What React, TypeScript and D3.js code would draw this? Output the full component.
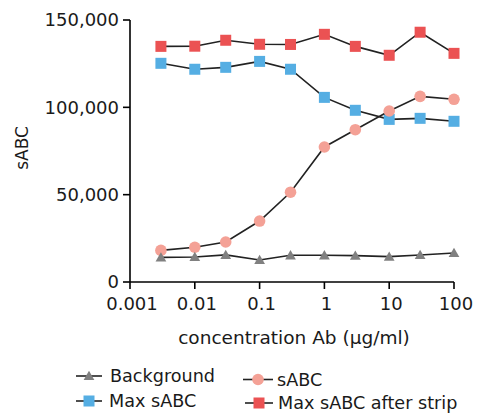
import React from "react";
import * as d3 from "d3";

const concentrations = [0.003, 0.01, 0.03, 0.1, 0.3, 1, 3, 10, 30, 100];
const background = [14100, 14300, 15500, 12600, 15300, 15300, 15100, 14500, 15500, 16600];
const sABC = [18100, 19900, 22900, 34900, 51400, 77300, 87200, 97900, 106300, 104600];
const maxSABC = [125200, 121800, 122900, 126300, 121800, 105700, 98300, 93100, 93700, 92000];
const maxAfterStrip = [134900, 135000, 138400, 136100, 136000, 141800, 134900, 129800, 143000, 130900];
const xTicks = [0.001, 0.01, 0.1, 1, 10, 100];
const xTickLabels = ["0.001", "0.01", "0.1", "1", "10", "100"];
const yTicks = [0, 50000, 100000, 150000];

const series = [
  { name: "Max sABC after strip", values: maxAfterStrip, shape: "square", color: "#EB5253" },
  { name: "Max sABC", values: maxSABC, shape: "square", color: "#55AEE3" },
  { name: "sABC", values: sABC, shape: "circle", color: "#F4A196" },
  { name: "Background", values: background, shape: "triangle", color: "#808080" },
];

const FONT = "'DejaVu Sans', sans-serif";
const TEXT = "#1a1a1a";

function Marker({ shape, color, x, y }: { shape: string; color: string; x: number; y: number }) {
  if (shape === "square") return <rect x={x - 5.5} y={y - 5.5} width={11} height={11} fill={color} />;
  if (shape === "circle") return <circle cx={x} cy={y} r={5.8} fill={color} />;
  const s = d3.symbol().type(d3.symbolTriangle).size(50)();
  return <path d={s || ""} transform={`translate(${x},${y + 1})`} fill={color} />;
}

export default function App() {
  const x = d3.scaleLog().domain([0.001, 100]).range([130, 454]);
  const y = d3.scaleLinear().domain([0, 150000]).range([282, 20]);
  const line = d3
    .line<number>()
    .x((_, i) => x(concentrations[i]))
    .y((d) => y(d));
  const fmt = d3.format(",");
  const legend = [
    { s: series[3], lx: 76, lw: 26, ty: 376, tx: 110 },
    { s: series[2], lx: 243, lw: 30, ty: 379.5, tx: 277 },
    { s: series[1], lx: 76, lw: 26, ty: 401, tx: 109 },
    { s: series[0], lx: 245, lw: 28, ty: 403, tx: 278 },
  ];
  return (
    <svg width={478} height={419} style={{ position: "absolute", left: 0, top: 0 }} fontFamily={FONT}>
      <line x1={130} x2={130} y1={y(150000)} y2={y(0)} stroke="#000" strokeWidth={1.6} />
      <line x1={130} x2={x(100)} y1={y(0)} y2={y(0)} stroke="#000" strokeWidth={1.6} />
      {yTicks.map((t) => (
        <g key={t}>
          <line x1={123} x2={130} y1={y(t)} y2={y(t)} stroke="#000" strokeWidth={1.6} />
          <text x={119} y={y(t)} dy="0.36em" textAnchor="end" fontSize={18} fill={TEXT}>
            {fmt(t)}
          </text>
        </g>
      ))}
      {xTicks.map((t, i) => (
        <g key={t}>
          <line x1={x(t)} x2={x(t)} y1={y(0)} y2={y(0) + 7} stroke="#000" strokeWidth={1.6} />
          <text x={x(t) + 2} y={304} dy="0.36em" textAnchor="middle" fontSize={18} fill={TEXT}>
            {xTickLabels[i]}
          </text>
        </g>
      ))}
      <text x={294} y={337} dy="0.36em" textAnchor="middle" fontSize={18.5} fill={TEXT}>
        concentration Ab (μg/ml)
      </text>
      <text transform="translate(22,148) rotate(-90)" dy="0.36em" textAnchor="middle" fontSize={17} fill={TEXT}>
        sABC
      </text>
      {series.map((s) => (
        <g key={s.name}>
          <path d={line(s.values) || ""} fill="none" stroke="#222" strokeWidth={1.6} />
          {s.values.map((v, i) => (
            <Marker key={i} shape={s.shape} color={s.color} x={x(concentrations[i])} y={y(v)} />
          ))}
        </g>
      ))}
      {legend.map(({ s, lx, lw, ty, tx }) => (
        <g key={s.name}>
          <line x1={lx} x2={lx + lw} y1={ty} y2={ty} stroke="#222" strokeWidth={1.6} />
          <Marker shape={s.shape} color={s.color} x={lx + lw / 2} y={ty} />
          <text x={tx} y={ty} dy="0.36em" fontSize={17.6} fill={TEXT}>
            {s.name}
          </text>
        </g>
      ))}
    </svg>
  );
}
